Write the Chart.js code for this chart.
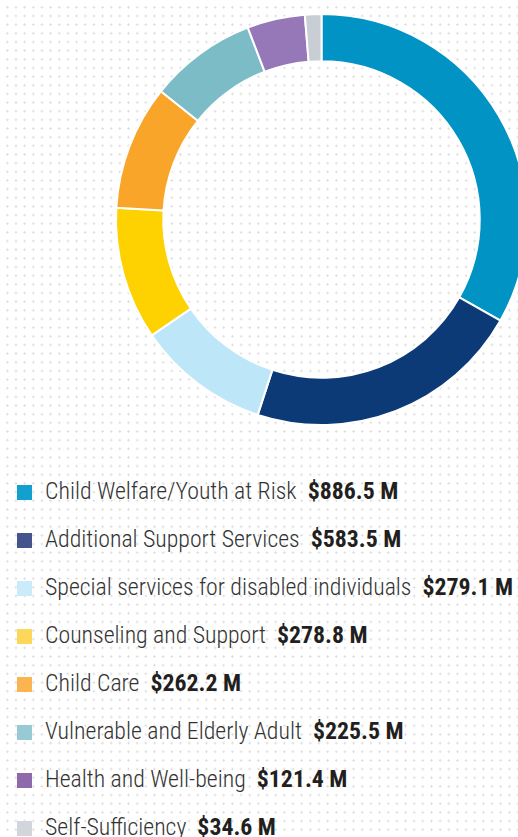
<!DOCTYPE html>
<html lang="en">
<head>
    <meta charset="UTF-8">
    <title>Funding by Program Area</title>
    <script src="https://cdn.jsdelivr.net/npm/chart.js"></script>
    <style>
        html, body {
            margin: 0;
            padding: 0;
            width: 518px;
            height: 837px;
            overflow: hidden;
            background-color: #ffffff;
            background-image: radial-gradient(circle, #dcdcdc 0.9px, transparent 1.3px);
            background-size: 8.67px 8.67px;
            background-position: 3px 3px;
            font-family: 'Liberation Sans Narrow', 'Roboto Condensed', 'DejaVu Sans Condensed', sans-serif;
        }
        #chart-wrap {
            position: absolute;
            left: 0;
            top: 0;
            width: 643px;
            height: 439px;
        }
        #legend {
            position: absolute;
            left: 0;
            top: 467px;
            margin: 0;
            padding: 0;
            list-style: none;
        }
        #legend li {
            height: 48px;
            line-height: 48px;
            white-space: nowrap;
            font-size: 23.8px;
            font-weight: 300;
            color: #333333;
        }
        #legend .box {
            display: inline-block;
            width: 15px;
            height: 15px;
            margin: 0 13px 0 17px;
            vertical-align: -1px;
        }
        #legend b {
            font-weight: 700;
            color: #231f20;
            margin-left: 11px;
        }
    </style>
</head>
<body>
    <div id="chart-wrap"><canvas id="donut"></canvas></div>
    <ul id="legend"></ul>

    <script>
        // data (millions of dollars)
        const categories = [
            'Child Welfare/Youth at Risk',
            'Additional Support Services',
            'Special services for disabled individuals',
            'Counseling and Support',
            'Child Care',
            'Vulnerable and Elderly Adult',
            'Health and Well-being',
            'Self-Sufficiency'
        ];
        const amounts = [886.5, 583.5, 279.1, 278.8, 262.2, 225.5, 121.4, 34.6];
        const amountLabels = ['$886.5 M', '$583.5 M', '$279.1 M', '$278.8 M', '$262.2 M', '$225.5 M', '$121.4 M', '$34.6 M'];

        const sliceColors = ['#0093c4', '#0b3a77', '#bde6f8', '#fdd200', '#f8a52a', '#7bbcc7', '#9677b7', '#c8ced4'];
        const boxColors = ['#12a0cf', '#46548e', '#c9ebfa', '#fdd75a', '#fbb450', '#97cad5', '#8e6aab', '#d0d6dc'];

        new Chart(document.getElementById('donut'), {
            type: 'doughnut',
            data: {
                labels: categories,
                datasets: [{
                    data: amounts,
                    backgroundColor: sliceColors,
                    borderColor: '#ffffff',
                    borderWidth: 2
                }]
            },
            options: {
                responsive: true,
                maintainAspectRatio: false,
                animation: false,
                cutout: '77%',
                layout: { padding: { top: 13, bottom: 13 } },
                plugins: {
                    legend: { display: false },
                    tooltip: { enabled: false }
                }
            }
        });

        // legend list
        const legend = document.getElementById('legend');
        categories.forEach((name, i) => {
            const li = document.createElement('li');
            li.innerHTML = '<span class="box" style="background:' + boxColors[i] + '"></span>' +
                name + '<b>' + amountLabels[i] + '</b>';
            legend.appendChild(li);
        });
    </script>
</body>
</html>
